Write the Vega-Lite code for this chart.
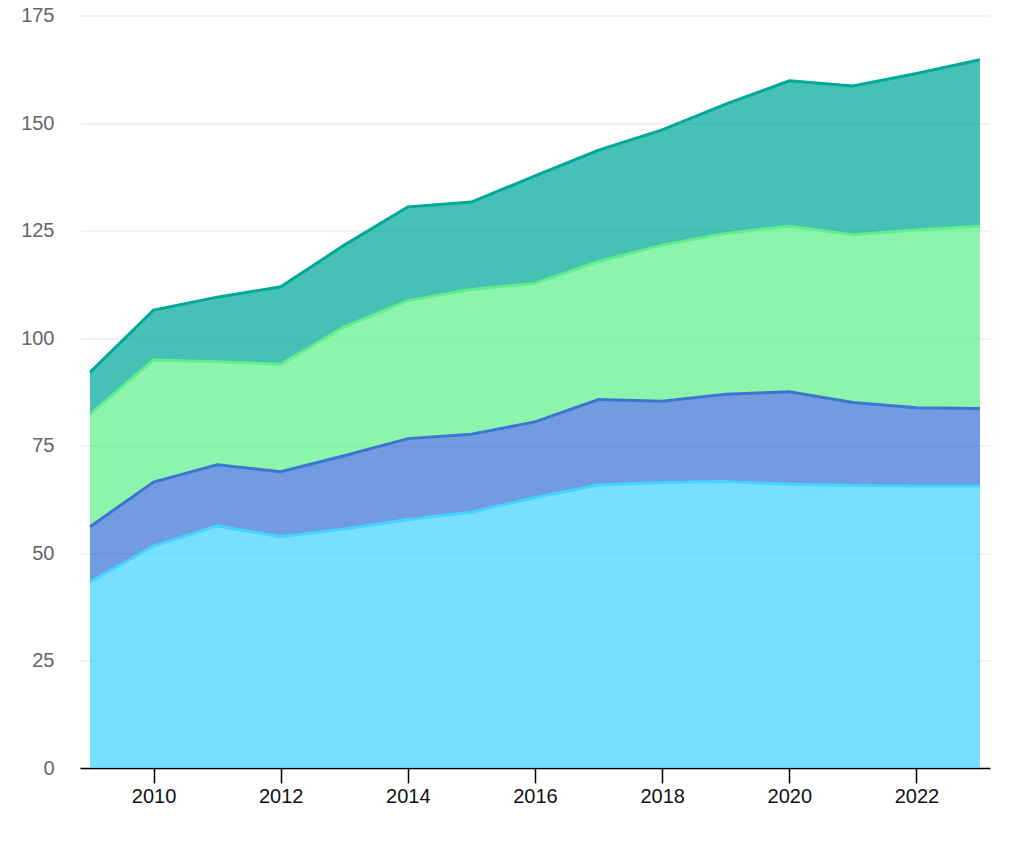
{
  "$schema": "https://vega.github.io/schema/vega-lite/v6.json",
  "autosize": "none",
  "padding": {"left": 80, "top": 15.5, "right": 34, "bottom": 85},
  "width": 910,
  "height": 752.5,
  "background": "white",
  "config": {"view": {"stroke": null}},
  "data": {"values": [
    {"year": 2009, "series": "A", "order": 1, "value": 43.3},
    {"year": 2010, "series": "A", "order": 1, "value": 51.6},
    {"year": 2011, "series": "A", "order": 1, "value": 56.3},
    {"year": 2012, "series": "A", "order": 1, "value": 53.8},
    {"year": 2013, "series": "A", "order": 1, "value": 55.6},
    {"year": 2014, "series": "A", "order": 1, "value": 57.8},
    {"year": 2015, "series": "A", "order": 1, "value": 59.5},
    {"year": 2016, "series": "A", "order": 1, "value": 62.9},
    {"year": 2017, "series": "A", "order": 1, "value": 65.8},
    {"year": 2018, "series": "A", "order": 1, "value": 66.4},
    {"year": 2019, "series": "A", "order": 1, "value": 66.6},
    {"year": 2020, "series": "A", "order": 1, "value": 66.0},
    {"year": 2021, "series": "A", "order": 1, "value": 65.7},
    {"year": 2022, "series": "A", "order": 1, "value": 65.6},
    {"year": 2023, "series": "A", "order": 1, "value": 65.6},
    {"year": 2009, "series": "B", "order": 2, "value": 12.8},
    {"year": 2010, "series": "B", "order": 2, "value": 14.9},
    {"year": 2011, "series": "B", "order": 2, "value": 14.2},
    {"year": 2012, "series": "B", "order": 2, "value": 15.1},
    {"year": 2013, "series": "B", "order": 2, "value": 17.0},
    {"year": 2014, "series": "B", "order": 2, "value": 18.8},
    {"year": 2015, "series": "B", "order": 2, "value": 18.1},
    {"year": 2016, "series": "B", "order": 2, "value": 17.6},
    {"year": 2017, "series": "B", "order": 2, "value": 19.9},
    {"year": 2018, "series": "B", "order": 2, "value": 18.9},
    {"year": 2019, "series": "B", "order": 2, "value": 20.3},
    {"year": 2020, "series": "B", "order": 2, "value": 21.5},
    {"year": 2021, "series": "B", "order": 2, "value": 19.3},
    {"year": 2022, "series": "B", "order": 2, "value": 18.2},
    {"year": 2023, "series": "B", "order": 2, "value": 18.0},
    {"year": 2009, "series": "C", "order": 3, "value": 26.2},
    {"year": 2010, "series": "C", "order": 3, "value": 28.4},
    {"year": 2011, "series": "C", "order": 3, "value": 24.0},
    {"year": 2012, "series": "C", "order": 3, "value": 25.0},
    {"year": 2013, "series": "C", "order": 3, "value": 30.0},
    {"year": 2014, "series": "C", "order": 3, "value": 32.1},
    {"year": 2015, "series": "C", "order": 3, "value": 33.7},
    {"year": 2016, "series": "C", "order": 3, "value": 32.2},
    {"year": 2017, "series": "C", "order": 3, "value": 32.1},
    {"year": 2018, "series": "C", "order": 3, "value": 36.3},
    {"year": 2019, "series": "C", "order": 3, "value": 37.4},
    {"year": 2020, "series": "C", "order": 3, "value": 38.5},
    {"year": 2021, "series": "C", "order": 3, "value": 39.0},
    {"year": 2022, "series": "C", "order": 3, "value": 41.3},
    {"year": 2023, "series": "C", "order": 3, "value": 42.4},
    {"year": 2009, "series": "D", "order": 4, "value": 9.7},
    {"year": 2010, "series": "D", "order": 4, "value": 11.6},
    {"year": 2011, "series": "D", "order": 4, "value": 15.0},
    {"year": 2012, "series": "D", "order": 4, "value": 18.0},
    {"year": 2013, "series": "D", "order": 4, "value": 19.0},
    {"year": 2014, "series": "D", "order": 4, "value": 21.8},
    {"year": 2015, "series": "D", "order": 4, "value": 20.3},
    {"year": 2016, "series": "D", "order": 4, "value": 25.0},
    {"year": 2017, "series": "D", "order": 4, "value": 25.9},
    {"year": 2018, "series": "D", "order": 4, "value": 26.8},
    {"year": 2019, "series": "D", "order": 4, "value": 30.1},
    {"year": 2020, "series": "D", "order": 4, "value": 33.8},
    {"year": 2021, "series": "D", "order": 4, "value": 34.6},
    {"year": 2022, "series": "D", "order": 4, "value": 36.4},
    {"year": 2023, "series": "D", "order": 4, "value": 38.7}
  ]},
  "mark": {"type": "area", "fillOpacity": 0.72, "line": {"strokeWidth": 3}},
  "encoding": {
    "x": {
      "field": "year", "type": "quantitative",
      "scale": {"domain": [2009, 2023], "padding": 10, "nice": false, "zero": false},
      "axis": {
        "values": [2010, 2012, 2014, 2016, 2018, 2020, 2022],
        "format": "d", "title": null, "grid": false,
        "domainColor": "#000000", "domainWidth": 1.5,
        "tickColor": "#000000", "tickSize": 15, "tickWidth": 1.5,
        "labelColor": "#111111", "labelFontSize": 20, "labelFont": "Liberation Sans",
        "labelPadding": 3
      }
    },
    "y": {
      "field": "value", "type": "quantitative", "aggregate": "sum", "stack": "zero",
      "scale": {"domain": [0, 175], "nice": false},
      "axis": {
        "values": [0, 25, 50, 75, 100, 125, 150, 175],
        "title": null, "domain": false, "ticks": false,
        "gridColor": "#e3e3e3", "gridWidth": 1.2,
        "labelColor": "#666666", "labelFontSize": 20, "labelFont": "Liberation Sans",
        "labelPadding": 26
      }
    },
    "color": {
      "field": "series", "type": "nominal", "legend": null,
      "scale": {"domain": ["A", "B", "C", "D"], "range": ["#45d3ff", "#3d75d3", "#5ff08c", "#00a899"]}
    },
    "order": {"field": "order", "type": "quantitative"}
  }
}
